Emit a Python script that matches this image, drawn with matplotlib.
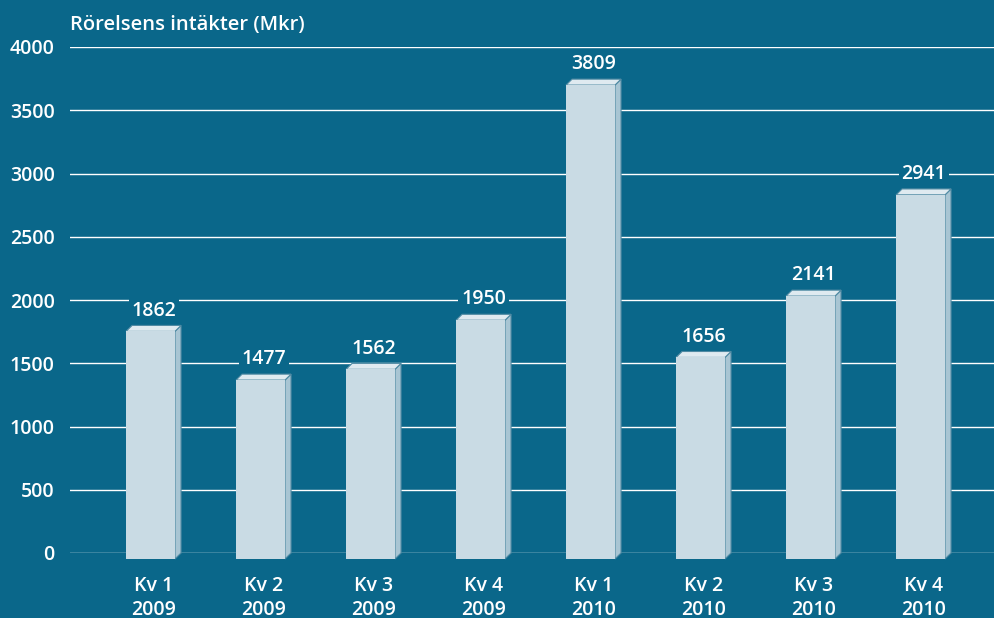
import matplotlib.pyplot as plt
from matplotlib.patches import Polygon, Rectangle

quarters = ['Kv 1', 'Kv 2', 'Kv 3', 'Kv 4', 'Kv 1', 'Kv 2', 'Kv 3', 'Kv 4']
years = ['2009', '2009', '2009', '2009', '2010', '2010', '2010', '2010']
values = [1862, 1477, 1562, 1950, 3809, 1656, 2141, 2941]
yticks = [0, 500, 1000, 1500, 2000, 2500, 3000, 3500, 4000]

bg = '#0a678a'
face = '#c9dbe4'
side = '#a8c5d3'
top = '#dfeaf0'
edge = '#4f8aa3'

plt.rcParams['font.family'] = ['Open Sans', 'DejaVu Sans']
fs = 14
fw = 'semibold'

fig = plt.figure(figsize=(9.94, 6.18), dpi=100, facecolor=bg)
ax = fig.add_axes([70/994, 1-553/618, 1-70/994, (553-47)/618])
ax.set_facecolor(bg)
ax.set_xlim(-0.732, 7.668)
ax.set_ylim(0, 4000)

for s in ax.spines.values():
    s.set_visible(False)
ax.set_yticks(yticks)
ax.set_yticklabels([str(t) for t in yticks], color='white', fontsize=fs, fontweight=fw)
ax.tick_params(axis='y', length=0, pad=11)
ax.set_xticks([])
ax.grid(axis='y', color='white', linewidth=1.0)
ax.set_axisbelow(True)

w = 0.445      # front width
dx = 0.055     # depth in x units
dy = 47        # depth in y units
cut = 110      # front face top sits this far under the value

for i, v in enumerate(values):
    x0 = i - w/2
    x1 = i + w/2
    y0 = -dy
    y1 = v - cut
    # side face
    ax.add_patch(Polygon([(x1, y0), (x1 + dx, y0 + dy), (x1 + dx, y1 + dy), (x1, y1)],
                         closed=True, facecolor=side, edgecolor=edge, linewidth=0.8,
                         clip_on=False, zorder=3))
    # top face
    ax.add_patch(Polygon([(x0, y1), (x0 + dx, y1 + dy), (x1 + dx, y1 + dy), (x1, y1)],
                         closed=True, facecolor=top, edgecolor=edge, linewidth=0.8,
                         clip_on=False, zorder=3))
    # front
    ax.add_patch(Rectangle((x0, y0), w, y1 - y0, facecolor=face, edgecolor=face,
                           linewidth=0, clip_on=False, zorder=3))
    ax.text(i + 0.03, v - 25, str(v), ha='center', va='bottom', color='white',
            fontsize=fs, fontweight=fw, zorder=2,
            bbox=dict(boxstyle='square,pad=0.15', facecolor=bg, edgecolor='none'))
    ax.text(i + 0.03, -180, quarters[i] + '\n' + years[i], ha='center', va='top',
            color='white', fontsize=fs, fontweight=fw, linespacing=1.3,
            clip_on=False)

fig.text(70/994, 1-25/618, 'Rörelsens intäkter (Mkr)', ha='left', va='center',
         color='white', fontsize=14.5, fontweight=fw)

plt.savefig('out.png', dpi=100, facecolor=bg)
